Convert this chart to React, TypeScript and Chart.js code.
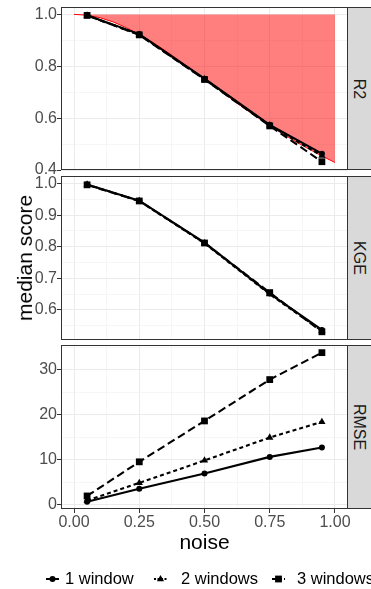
import React, { useEffect, useRef } from "react";
import { Chart, registerables } from "chart.js";

Chart.register(...registerables);

// ---------------- data ----------------
const noiseLevels = [0.05, 0.25, 0.5, 0.75, 0.95];
const seriesNames = ["1 window", "2 windows", "3 windows"];

const r2OneWindow = [0.997, 0.924, 0.752, 0.574, 0.463];
const r2TwoWindows = [0.996, 0.922, 0.75, 0.572, 0.455];
const r2ThreeWindows = [0.996, 0.921, 0.749, 0.57, 0.432];

const kgeOneWindow = [0.997, 0.946, 0.813, 0.652, 0.537];
const kgeTwoWindows = [0.997, 0.945, 0.811, 0.65, 0.534];
const kgeThreeWindows = [0.996, 0.945, 0.812, 0.655, 0.531];

const rmseOneWindow = [0.6, 3.5, 6.9, 10.6, 12.7];
const rmseTwoWindows = [0.9, 4.8, 9.8, 14.9, 18.4];
const rmseThreeWindows = [1.9, 9.5, 18.6, 27.8, 33.8];

// theoretical R2 curve (red band edge)
const curveNoise = [0, 0.05, 0.1, 0.15, 0.2, 0.25, 0.3, 0.35, 0.4, 0.45, 0.5, 0.55, 0.6, 0.65, 0.7, 0.75, 0.8, 0.85, 0.9, 0.95, 1.0];
const curveR2 = [1.0, 0.997, 0.987, 0.971, 0.949, 0.923, 0.893, 0.86, 0.824, 0.787, 0.75, 0.713, 0.676, 0.64, 0.605, 0.571, 0.54, 0.509, 0.481, 0.454, 0.429];

// ticks
const xMajorTicks = [0, 0.25, 0.5, 0.75, 1.0];
const xTickLabels = ["0.00", "0.25", "0.50", "0.75", "1.00"];
const xMinorTicks = [0.125, 0.375, 0.625, 0.875];

const r2MajorTicks = [0.4, 0.6, 0.8, 1.0];
const r2TickLabels = ["0.4", "0.6", "0.8", "1.0"];
const r2MinorTicks = [0.5, 0.7, 0.9];

const kgeMajorTicks = [0.6, 0.7, 0.8, 0.9, 1.0];
const kgeTickLabels = ["0.6", "0.7", "0.8", "0.9", "1.0"];
const kgeMinorTicks = [0.55, 0.65, 0.75, 0.85, 0.95];

const rmseMajorTicks = [0, 10, 20, 30];
const rmseTickLabels = ["0", "10", "20", "30"];
const rmseMinorTicks = [5, 15, 25, 35];

// ---------------- styling ----------------
const FONT = "'Liberation Sans', Arial, Helvetica, sans-serif";
const TICK_FONT_SIZE = 16;
const LEGEND_FONT_SIZE = 16.5;
const TITLE_FONT_SIZE = 21;
const PLOT_LEFT = 61;
const PLOT_RIGHT = 348;
const WIDTH = 371;
const HEIGHT = 589;
const PAD = 10;

const lineDashes = [[], [4, 3], [8, 4]];
const pointStyles = ["circle", "triangle", "rect"];
const pointRadii = [3, 4.2, 4.8];
const drawOrders = [2, 1, 0];

type PanelSpec = {
  strip: string;
  values: number[][];
  yMin: number;
  yMax: number;
  yMajor: number[];
  yLabels: string[];
  yMinor: number[];
  chartTop: number;
  chartBottom: number;
  showX: boolean;
  band?: boolean;
};

const panels: PanelSpec[] = [
  {
    strip: "R2",
    values: [r2OneWindow, r2TwoWindows, r2ThreeWindows],
    yMin: 0.4,
    yMax: 1.0285,
    yMajor: r2MajorTicks,
    yLabels: r2TickLabels,
    yMinor: r2MinorTicks,
    chartTop: 7,
    chartBottom: 170,
    showX: false,
    band: true,
  },
  {
    strip: "KGE",
    values: [kgeOneWindow, kgeTwoWindows, kgeThreeWindows],
    yMin: 0.505,
    yMax: 1.024,
    yMajor: kgeMajorTicks,
    yLabels: kgeTickLabels,
    yMinor: kgeMinorTicks,
    chartTop: 176,
    chartBottom: 340,
    showX: false,
  },
  {
    strip: "RMSE",
    values: [rmseOneWindow, rmseTwoWindows, rmseThreeWindows],
    yMin: -1.0,
    yMax: 35.5,
    yMajor: rmseMajorTicks,
    yLabels: rmseTickLabels,
    yMinor: rmseMinorTicks,
    chartTop: 345,
    chartBottom: 509,
    showX: true,
  },
];

const near = (a: number, b: number) => Math.abs(a - b) < 1e-6;
const isIn = (v: number, arr: number[]) => arr.some((a) => near(a, v));

const panelBorder = {
  id: "panelBorder",
  afterDraw(chart: any) {
    const { ctx, chartArea: a } = chart;
    ctx.save();
    ctx.strokeStyle = "#333333";
    ctx.lineWidth = 1;
    ctx.strokeRect(a.left + 0.5, a.top + 0.5, a.right - a.left - 1, a.bottom - a.top - 1);
    ctx.restore();
  },
};

function Panel({ spec }: { spec: PanelSpec }) {
  const ref = useRef<HTMLCanvasElement | null>(null);
  const xAxisH = spec.showX ? 26 : 0;
  const padBottom = spec.showX ? 0 : PAD;
  const canvasTop = spec.chartTop - PAD;
  const canvasH = spec.chartBottom + padBottom + xAxisH - canvasTop;

  useEffect(() => {
    if (!ref.current) return;
    const datasets: any[] = seriesNames.map((name, i) => ({
      label: name,
      data: noiseLevels.map((x, j) => ({ x, y: spec.values[i][j] })),
      borderColor: "#000000",
      backgroundColor: "#000000",
      borderWidth: 2.1,
      borderDash: lineDashes[i],
      pointStyle: pointStyles[i],
      pointRadius: pointRadii[i],
      pointBorderWidth: 0,
      pointBackgroundColor: "#000000",
      tension: 0,
      fill: false,
      order: drawOrders[i],
    }));
    if (spec.band) {
      datasets.push({
        label: "theory",
        data: curveNoise.map((x, j) => ({ x, y: curveR2[j] })),
        borderColor: "#FF0000",
        backgroundColor: "rgba(255,0,0,0.5)",
        borderWidth: 1,
        pointRadius: 0,
        tension: 0,
        fill: { value: 1.0 },
        order: 5,
      });
    }

    const xAll = [...xMajorTicks, ...xMinorTicks].sort((a, b) => a - b);
    const yAll = [...spec.yMajor, ...spec.yMinor].sort((a, b) => a - b);

    const chart = new Chart(ref.current, {
      type: "line",
      data: { datasets },
      options: {
        animation: false,
        responsive: false,
        maintainAspectRatio: false,
        layout: { padding: { top: PAD, bottom: padBottom, left: 0, right: WIDTH - PLOT_RIGHT } },
        plugins: { legend: { display: false }, tooltip: { enabled: false } },
        scales: {
          x: {
            type: "linear",
            min: -0.05,
            max: 1.05,
            afterBuildTicks: (s: any) => {
              s.ticks = xAll.map((v) => ({ value: v }));
            },
            afterFit: (s: any) => {
              s.height = xAxisH;
            },
            ticks: {
              display: spec.showX,
              autoSkip: false,
              maxRotation: 0,
              color: "#4D4D4D",
              padding: 0,
              font: { size: TICK_FONT_SIZE, family: FONT },
              callback: (v: any) => {
                const k = xMajorTicks.findIndex((m) => near(m, Number(v)));
                return k >= 0 ? xTickLabels[k] : "";
              },
            },
            grid: {
              color: (c: any) => (isIn(c.tick?.value, xMajorTicks) ? "#EBEBEB" : "#F0F0F0"),
              lineWidth: (c: any) => (isIn(c.tick?.value, xMajorTicks) ? 1 : 0.6),
              drawTicks: spec.showX,
              tickLength: 4,
              tickWidth: 1,
              tickColor: (c: any) => (isIn(c.tick?.value, xMajorTicks) ? "#333333" : "rgba(0,0,0,0)"),
            },
            border: { display: false },
          },
          y: {
            type: "linear",
            min: spec.yMin,
            max: spec.yMax,
            afterBuildTicks: (s: any) => {
              s.ticks = yAll.map((v) => ({ value: v }));
            },
            afterFit: (s: any) => {
              s.width = PLOT_LEFT;
            },
            ticks: {
              autoSkip: false,
              color: "#4D4D4D",
              padding: 0,
              font: { size: TICK_FONT_SIZE, family: FONT },
              callback: (v: any) => {
                const k = spec.yMajor.findIndex((m) => near(m, Number(v)));
                return k >= 0 ? spec.yLabels[k] : "";
              },
            },
            grid: {
              color: (c: any) => (isIn(c.tick?.value, spec.yMajor) ? "#EBEBEB" : "#F0F0F0"),
              lineWidth: (c: any) => (isIn(c.tick?.value, spec.yMajor) ? 1 : 0.6),
              drawTicks: true,
              tickLength: 4,
              tickWidth: 1,
              tickColor: (c: any) => (isIn(c.tick?.value, spec.yMajor) ? "#333333" : "rgba(0,0,0,0)"),
            },
            border: { display: false },
          },
        },
      },
      plugins: [panelBorder],
    } as any);
    return () => chart.destroy();
  }, []);

  const stripH = spec.chartBottom - spec.chartTop;
  return (
    <>
      <canvas
        ref={ref}
        width={WIDTH}
        height={canvasH}
        style={{ position: "absolute", left: 0, top: canvasTop, width: WIDTH, height: canvasH }}
      />
      <div
        style={{
          position: "absolute",
          left: PLOT_RIGHT - 1,
          top: spec.chartTop,
          width: 32,
          height: stripH,
          background: "#D9D9D9",
          border: "1px solid #333333",
          boxSizing: "border-box",
        }}
      />
      <div
        style={{
          position: "absolute",
          left: 359,
          top: spec.chartTop + stripH / 2,
          transform: "translate(-50%, -50%) rotate(90deg)",
          fontFamily: FONT,
          fontSize: TICK_FONT_SIZE,
          color: "#1A1A1A",
          whiteSpace: "nowrap",
          lineHeight: 1,
        }}
      >
        {spec.strip}
      </div>
    </>
  );
}

function Glyph({ i }: { i: number }) {
  const dash = lineDashes[i].length ? lineDashes[i].map((d) => d * 0.5).join(" ") : undefined;
  let marker: React.ReactNode;
  if (i === 0) marker = <circle cx={6.5} cy={6} r={3} fill="#000" />;
  else if (i === 1) marker = <polygon points="6.5,2 10.1,8.2 2.9,8.2" fill="#000" />;
  else marker = <rect x={3.1} y={2.6} width={6.8} height={6.8} fill="#000" />;
  return (
    <svg width={13} height={12} style={{ display: "block" }}>
      <line x1={0} y1={6} x2={13} y2={6} stroke="#000" strokeWidth={2} strokeDasharray={dash} />
      {marker}
    </svg>
  );
}

const legendGlyphCenter = [52.5, 160.5, 278];
const legendTextLeft = [65, 181, 297];

export default function App() {
  return (
    <div
      style={{
        position: "absolute",
        left: 0,
        top: 0,
        width: WIDTH,
        height: HEIGHT,
        overflow: "hidden",
        background: "#FFFFFF",
        fontFamily: FONT,
      }}
    >
      {panels.map((p) => (
        <Panel key={p.strip} spec={p} />
      ))}
      <div
        style={{
          position: "absolute",
          left: 24.5,
          top: 258,
          transform: "translate(-50%, -50%) rotate(-90deg)",
          fontSize: TITLE_FONT_SIZE,
          color: "#000",
          whiteSpace: "nowrap",
          lineHeight: 1.15,
        }}
      >
        median score
      </div>
      <div
        style={{
          position: "absolute",
          left: PLOT_LEFT,
          width: PLOT_RIGHT - PLOT_LEFT,
          top: 531,
          textAlign: "center",
          fontSize: TITLE_FONT_SIZE,
          lineHeight: 1,
          color: "#000",
        }}
      >
        noise
      </div>
      {seriesNames.map((name, i) => (
        <React.Fragment key={name}>
          <div style={{ position: "absolute", left: legendGlyphCenter[i] - 6.5, top: 572.5 }}>
            <Glyph i={i} />
          </div>
          <div
            style={{
              position: "absolute",
              left: legendTextLeft[i],
              top: 570,
              fontSize: LEGEND_FONT_SIZE,
              lineHeight: 1,
              whiteSpace: "nowrap",
              color: "#000",
            }}
          >
            {name}
          </div>
        </React.Fragment>
      ))}
    </div>
  );
}
